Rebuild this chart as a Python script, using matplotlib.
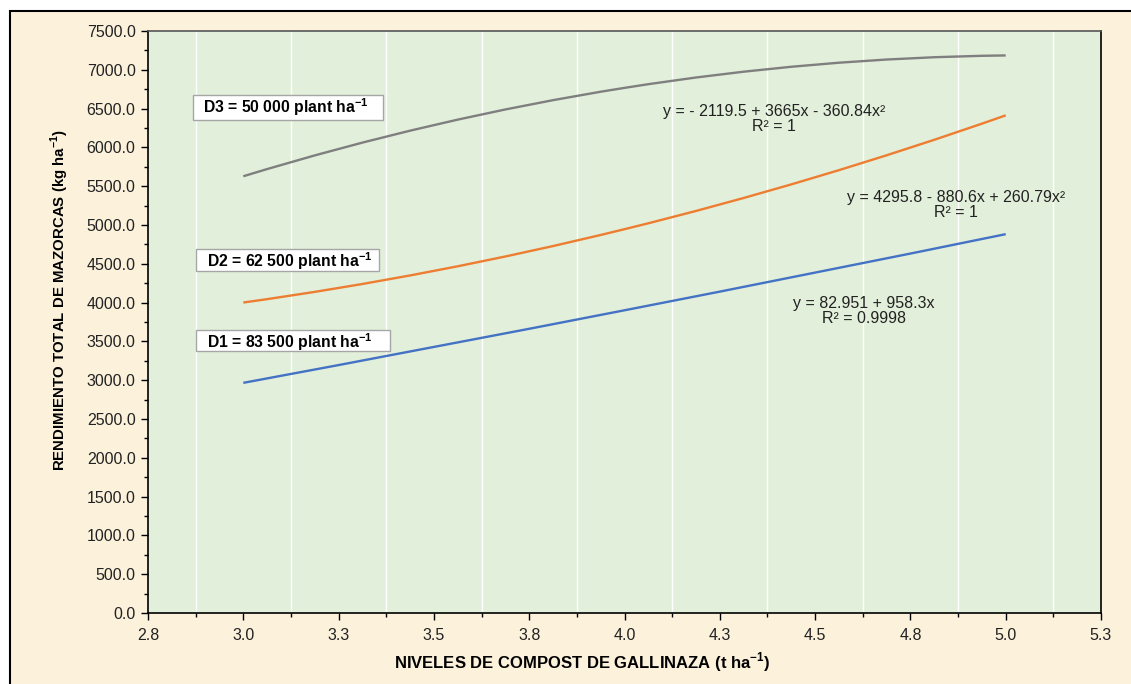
import math
import matplotlib.pyplot as plt
from matplotlib.path import Path
from matplotlib.patches import PathPatch, Rectangle
from matplotlib.ticker import MultipleLocator, FuncFormatter

plt.rcParams['font.family'] = ['Liberation Sans', 'DejaVu Sans']
plt.rcParams['mathtext.fontset'] = 'custom'
plt.rcParams['mathtext.rm'] = 'Liberation Sans'
plt.rcParams['mathtext.bf'] = 'Liberation Sans:bold'

# niveles de compost (t/ha) y rendimiento por densidad
niveles = [3.0, 4.0, 5.0]
d1 = [2966, 3901, 4882]
d2 = [4001, 4946, 6413]
d3 = [5628, 6767, 7185]

etiquetas = ['D3 = 50 000 plant ha$^{\\mathbf{-1}}$',
             'D2 = 62 500 plant ha$^{\\mathbf{-1}}$',
             'D1 = 83 500 plant ha$^{\\mathbf{-1}}$']
ecuaciones = ['y = - 2119.5 + 3665x - 360.84x²\nR² = 1',
              'y = 4295.8 - 880.6x + 260.79x²\nR² = 1',
              'y = 82.951 + 958.3x\nR² = 0.9998']
colores = ['#4472C4', '#ED7D31', '#7F7F7F']


def curva_suave(xs, ys):
    # bezier suavizada; en los extremos se extrapola un punto cuadratico
    pts = list(zip(xs, ys))
    ini = tuple(3 * a - 3 * b + c for a, b, c in zip(pts[0], pts[1], pts[2]))
    fin = tuple(3 * a - 3 * b + c for a, b, c in zip(pts[-1], pts[-2], pts[-3]))
    ext = [ini] + pts + [fin]
    verts = [pts[0]]
    codes = [Path.MOVETO]
    for i in range(1, len(ext) - 2):
        p0, p1, p2, p3 = ext[i - 1], ext[i], ext[i + 1], ext[i + 2]
        c1 = (p1[0] + (p2[0] - p0[0]) / 6, p1[1] + (p2[1] - p0[1]) / 6)
        c2 = (p2[0] - (p3[0] - p1[0]) / 6, p2[1] - (p3[1] - p1[1]) / 6)
        verts += [c1, c2, p2]
        codes += [Path.CURVE4] * 3
    return Path(verts, codes)


def redondeo(v, pos):
    return '%.1f' % (math.floor(v * 10 + 0.5 + 1e-9) / 10)


fig = plt.figure(figsize=(11.31, 6.84), dpi=100, facecolor='white')
fig.patches.append(Rectangle((10 / 1131, -0.01), 1.0, 1 - 11 / 684 + 0.01,
                             transform=fig.transFigure, facecolor='#FCF2DC',
                             edgecolor='black', linewidth=1.5, zorder=-10))

ax = fig.add_axes([148 / 1131, 1 - 613 / 684, 953 / 1131, 582 / 684])
ax.set_facecolor('#E2EFDA')

for ys, c in zip([d1, d2, d3], colores):
    ax.add_patch(PathPatch(curva_suave(niveles, ys), facecolor='none',
                           edgecolor=c, linewidth=1.7, zorder=3))

ax.set_xlim(2.75, 5.25)
ax.set_ylim(0, 7500)
ax.xaxis.set_major_locator(MultipleLocator(0.25))
ax.xaxis.set_minor_locator(MultipleLocator(0.125))
ax.yaxis.set_major_locator(MultipleLocator(500))
ax.yaxis.set_minor_locator(MultipleLocator(250))
ax.xaxis.set_major_formatter(FuncFormatter(redondeo))
ax.yaxis.set_major_formatter(FuncFormatter(redondeo))
ax.tick_params(which='major', length=5, width=1, labelsize=11.5,
               colors='black', labelcolor='#222222')
ax.tick_params(which='minor', length=3, width=1)
ax.tick_params(axis='x', pad=6)
ax.tick_params(axis='y', pad=4)

# lineas de division en las marcas secundarias
for xv in [2.875 + 0.25 * k for k in range(10)]:
    ax.axvline(xv, color='white', linewidth=1, zorder=1)

for s in ax.spines.values():
    s.set_color('black')
    s.set_linewidth(1.2)
ax.spines['top'].set_color('#555555')

cajas = [(0.0472, 0.847, 0.1994, 0.043, 0.869),
         (0.0504, 0.5876, 0.192, 0.0378, 0.605),
         (0.0504, 0.450, 0.2036, 0.036, 0.4656)]
for (x0, y0, w, h, yt), txt in zip(cajas, etiquetas):
    ax.add_patch(Rectangle((x0, y0), w, h, transform=ax.transAxes,
                           facecolor='white', edgecolor='#A6A6A6',
                           linewidth=1, zorder=4))
    ax.text(x0 + 0.011, yt, txt, transform=ax.transAxes, fontsize=11.3,
            fontweight='bold', va='center', ha='left', zorder=5)

pos_ec = [(0.657, 0.849), (0.848, 0.701), (0.751, 0.519)]
for (xe, ye), txt in zip(pos_ec, ecuaciones):
    ax.text(xe, ye, txt, transform=ax.transAxes, fontsize=11.5,
            ha='center', va='center', multialignment='center',
            linespacing=1.05, color='#222222', zorder=5)

fig.text(60 / 1131, 1 - 300 / 684,
         'RENDIMIENTO TOTAL DE MAZORCAS (kg ha$^{\\mathbf{-1}}$)',
         rotation=90, ha='center', va='center', fontsize=10.8,
         fontweight='bold')
fig.text(582 / 1131, 1 - 662 / 684,
         'NIVELES DE COMPOST DE GALLINAZA (t ha$^{\\mathbf{-1}}$)',
         ha='center', va='center', fontsize=12, fontweight='bold')

fig.savefig('out.png', dpi=100, facecolor=fig.get_facecolor())
